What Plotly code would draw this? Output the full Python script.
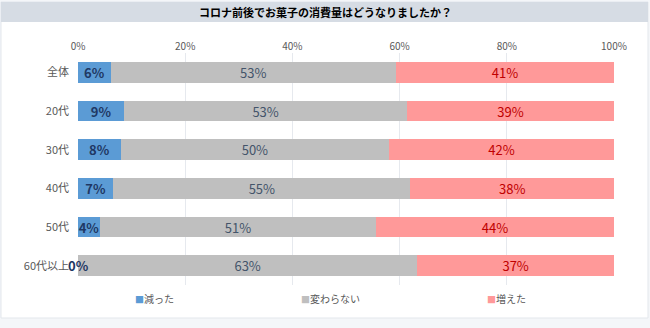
import plotly.graph_objects as go

categories = ["全体", "20代", "30代", "40代", "50代", "60代以上"]
decreased = [6.1, 8.6, 8.0, 6.6, 4.1, 0.0]
unchanged = [53.2, 52.8, 50.0, 55.4, 51.5, 63.3]
increased = [40.7, 38.6, 42.0, 38.0, 44.4, 36.7]
dec_labels = ["6%", "9%", "8%", "7%", "4%", "0%"]
unc_labels = ["53%", "53%", "50%", "55%", "51%", "63%"]
inc_labels = ["41%", "39%", "42%", "38%", "44%", "37%"]
series_names = ["減った", "変わらない", "増えた"]
tick_vals = [0, 20, 40, 60, 80, 100]
tick_text = ["0%", "20%", "40%", "60%", "80%", "100%"]
title_text = "コロナ前後でお菓子の消費量はどうなりましたか？"

W, H = 650, 328
L, R, T, B = 78, 614, 53, 285
FONT = "Noto Sans CJK JP"

def px_x(p):
    return (p - L) / (R - L)

def px_y(p):
    return (B - p) / (B - T)

colors = ["#5b9bd5", "#bfbfbf", "#ff9999"]
text_colors = ["#1f3864", "#44546a", "#c00000"]
weights = ["bold", "normal", "normal"]
legend_px = [133, 299, 485]

fig = go.Figure()
dec_text = [t if v > 0 else "" for t, v in zip(dec_labels, decreased)]
for vals, txt, name, col, tcol, wt in zip(
        [decreased, unchanged, increased], [dec_text, unc_labels, inc_labels],
        series_names, colors, text_colors, weights):
    fig.add_trace(go.Bar(
        y=categories, x=vals, orientation="h", name=name,
        marker=dict(color=col, line=dict(width=0)),
        text=txt, textposition="inside", insidetextanchor="middle",
        textfont=dict(color=tcol, size=13, family=FONT, weight=wt),
        constraintext="none", showlegend=False,
    ))

annotations = []
for c, v, t in zip(categories, decreased, dec_labels):
    if v == 0:
        annotations.append(dict(x=v, y=c, xref="x", yref="y", text=t, showarrow=False,
                                xanchor="center", font=dict(color=text_colors[0], size=13,
                                family=FONT, weight="bold")))
annotations.append(dict(x=px_x(W / 2), y=px_y(12), xref="paper", yref="paper", text=title_text,
                        showarrow=False, xanchor="center", yanchor="middle",
                        font=dict(size=11, color="#000000", family=FONT, weight="bold")))
# legend entries
for name, col, lx in zip(series_names, colors, legend_px):
    annotations.append(dict(
        x=px_x(lx), y=px_y(298), xref="paper", yref="paper", showarrow=False,
        xanchor="left", yanchor="middle",
        text=f"<span style='color:{col}; font-size:9px'>■</span>{name}",
        font=dict(size=10, color="#595959", family=FONT)))

shapes = [
    dict(type="rect", xref="paper", yref="paper", x0=px_x(1), x1=px_x(648), y0=px_y(318), y1=px_y(2),
         fillcolor="#ffffff", line=dict(color="#e3e7ec", width=1), layer="below"),
    dict(type="rect", xref="paper", yref="paper", x0=px_x(1), x1=px_x(648), y0=px_y(22), y1=px_y(2),
         fillcolor="#d6dce4", line=dict(width=0), layer="below"),
]

fig.update_layout(
    width=W, height=H,
    margin=dict(l=L, r=W - R, t=T, b=H - B),
    barmode="stack", bargap=0.47,
    paper_bgcolor="#f4f6f9", plot_bgcolor="rgba(0,0,0,0)",
    font=dict(family=FONT, color="#595959"),
    showlegend=False,
    xaxis=dict(range=[0, 100], tickvals=tick_vals, ticktext=tick_text, side="top",
               showgrid=True, gridcolor="#e6e9ee", gridwidth=1, zeroline=False,
               tickfont=dict(size=10, color="#595959", family=FONT), ticks="", fixedrange=True),
    yaxis=dict(autorange="reversed", tickfont=dict(size=11, color="#595959", family=FONT),
               ticks="", ticklabelstandoff=8, showgrid=False),
    annotations=annotations,
    shapes=shapes,
)
fig.write_html("out.html")
